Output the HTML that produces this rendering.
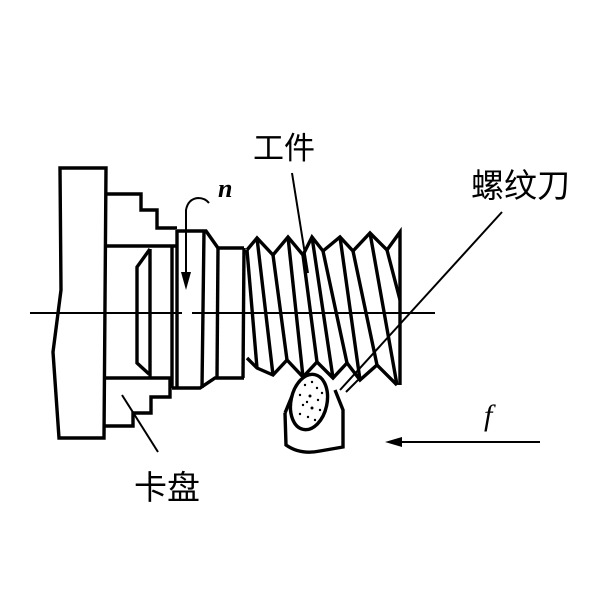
<!DOCTYPE html>
<html><head><meta charset="utf-8"><style>
html,body{margin:0;padding:0;background:#fff;}
svg{display:block;}
text{font-family:"Liberation Sans","Noto Sans CJK SC",sans-serif;fill:#000;}
</style></head><body>
<svg width="600" height="600" viewBox="0 0 600 600" xmlns="http://www.w3.org/2000/svg">
<g fill="none" stroke="#000" stroke-width="3.4" stroke-linejoin="miter">
<path d="M60,168 L106,168 L104,438 L59,438 L53,352 L61,290 Z"/>
<path d="M106,194 L141,194 L141,210 L157,210 L157,228 L177,228"/>
<path d="M106,246 L177,246"/>
<path d="M104,378 L170,378 L170,397 L151,397 L151,413 L133,413 L133,426 L104,426"/>
<path d="M150,249 L137,267 L137,363 L149,374"/>
<path d="M150,249 L150,378"/>
<path d="M177,230 L177,388"/>
<path d="M172,246 L172,388"/>
<path d="M177,231 L206,231 L218,248 L244,248"/>
<path d="M172,388 L200,388 L215,378 L244,378"/>
<path d="M204,231 L202,388"/>
<path d="M218,248 L217,378"/>
<path d="M244,248 L243,378"/>
<path d="M247,250 L257,238 L273,255 L288,237 L303,255 L312,237 L323,251 L340,237 L353,251 L370,233 L387,250 L400,232 L400,385"/>
<path d="M247,358 L257,368 L273,375 L287,360 L303,377 L317,362 L333,378 L347,363 L360,380 L377,365 L397,385"/>
<path d="M247,250 L257,368 M257,238 L273,375 M273,255 L287,360 M288,237 L303,377 M303,255 L317,362 M312,237 L333,378 M323,251 L347,363 M340,237 L360,380 M353,251 L377,365 M370,233 L397,385 M387,250 L400,300"/>
<path d="M285,413 L286,445 Q300,455 320,451 L343,447 L343,410 L335,390"/>
<ellipse cx="309" cy="402" rx="18" ry="28" transform="rotate(12 309 402)"/>
<path d="M285,413 L292,396"/>
</g>
<g fill="#000">
<circle cx="305" cy="385" r="1.2"/><circle cx="312" cy="382" r="1.2"/><circle cx="317" cy="388" r="1.2"/>
<circle cx="300" cy="395" r="1.2"/><circle cx="310" cy="396" r="1.5"/><circle cx="318" cy="400" r="1.2"/>
<circle cx="303" cy="405" r="1.2"/><circle cx="312" cy="408" r="1.5"/><circle cx="320" cy="410" r="1.2"/>
<circle cx="300" cy="414" r="1.2"/><circle cx="308" cy="417" r="1.2"/><circle cx="315" cy="420" r="1.2"/>
<circle cx="307" cy="402" r="1.2"/><circle cx="322" cy="393" r="1.2"/>
</g>
<g fill="none" stroke="#000" stroke-width="2">
<path d="M30,313 L182,313 M192,313 L435,313"/>
<path d="M292,173 L308,273"/>
<path d="M502,212 L340,390"/>
<path d="M346,392 L358,380"/>
<path d="M122,395 L158,452"/>
<path d="M395,442 L540,442"/>
<path d="M186,285 L186,210 Q188,199 198,198 Q205,198 209,203"/>
</g>
<polygon points="385,442 402,437 402,447" fill="#000"/>
<polygon points="186,290 181,272 191,272" fill="#000"/>
<text x="253" y="159" font-size="31">工件</text>
<text x="471" y="197" font-size="33">螺纹刀</text>
<text x="134" y="499" font-size="33">卡盘</text>
<text x="218" y="197" font-size="26" font-style="italic" font-weight="bold" style="font-family:'Liberation Serif',serif">n</text>
<text x="484" y="425" font-size="30" font-style="italic" style="font-family:'Liberation Serif',serif">f</text>
</svg>
</body></html>
